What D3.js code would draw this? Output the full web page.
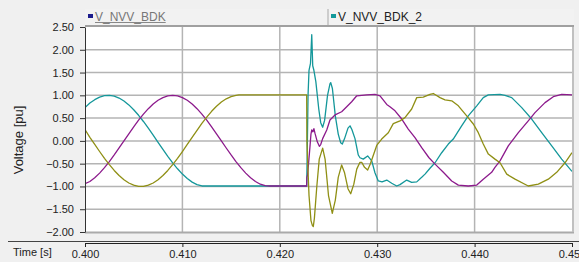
<!DOCTYPE html>
<html><head><meta charset="utf-8">
<script src="https://cdn.jsdelivr.net/npm/d3@7"></script>
<style>
html,body{margin:0;padding:0;background:#f0f0f0;}
svg{display:block;font-family:"Liberation Sans",Arial,sans-serif;}
</style></head>
<body><svg id="c" width="579" height="262"></svg>
<script>
// ---- data ----
const legendNames = ["V_NVV_BDK", "V_NVV_BDK_2"];
const legendColors = ["#1c1c8c", "#13999a"];
const xTicks = [0.400, 0.410, 0.420, 0.430, 0.440, 0.450];
const yTicks = [-2.0, -1.5, -1.0, -0.5, 0.0, 0.5, 1.0, 1.5, 2.0, 2.5];

const tealSeries = [
[0.4000,0.73],[0.4005,0.83],[0.4010,0.905],[0.4015,0.96],[0.4020,0.992],[0.4025,1.0],[0.4030,0.982],[0.4035,0.941],
[0.4040,0.876],[0.4045,0.79],[0.4050,0.684],[0.4055,0.562],[0.4060,0.426],[0.4065,0.279],[0.4070,0.125],[0.4075,-0.031],
[0.4080,-0.187],[0.4085,-0.339],[0.4090,-0.482],[0.4095,-0.613],[0.4100,-0.729],[0.4105,-0.827],[0.4110,-0.905],
[0.4115,-0.96],[0.4120,-0.99],[0.4125,-0.99],[0.42276,-0.99],
[0.42282,-0.2],[0.42290,1.0],[0.42300,1.55],[0.42315,1.7],[0.42328,2.33],[0.42338,1.65],[0.42350,1.55],[0.42370,1.3],
[0.42400,0.7],[0.42420,0.4],[0.42440,0.30],[0.42460,0.45],[0.42490,1.0],[0.42515,1.25],[0.42523,1.28],[0.42540,1.15],
[0.42570,0.55],[0.42600,0.15],[0.42625,-0.04],[0.42642,-0.07],[0.42665,0.05],[0.42700,0.28],[0.42721,0.33],[0.42740,0.25],
[0.42772,0.05],[0.42806,-0.31],[0.42823,-0.37],[0.42857,-0.40],[0.42902,-0.33],[0.42944,-0.44],[0.42977,-0.70],
[0.43011,-0.88],[0.43050,-0.90],[0.43098,-0.86],[0.43149,-0.93],[0.43200,-0.99],[0.43234,-0.96],[0.43303,-0.86],
[0.43354,-0.91],[0.43406,-0.90],[0.43457,-0.80],[0.43491,-0.73],[0.43542,-0.60],[0.43594,-0.48],[0.43662,-0.26],
[0.43730,-0.07],[0.43781,0.04],[0.43867,0.33],[0.43935,0.55],[0.44022,0.77],[0.44089,0.95],[0.44141,1.01],
[0.44261,1.02],[0.44312,1.0],[0.44381,0.95],[0.44484,0.73],[0.44586,0.48],[0.44689,0.18],[0.44792,-0.11],
[0.44894,-0.40],[0.45000,-0.67]
];

const purpleSeries = [
[0.4000,-0.94],[0.4005,-0.891],[0.4010,-0.809],[0.4015,-0.707],[0.4020,-0.588],[0.4025,-0.454],[0.4030,-0.309],
[0.4035,-0.156],[0.4040,0.0],[0.4045,0.156],[0.4050,0.309],[0.4055,0.454],[0.4060,0.588],[0.4065,0.707],[0.4070,0.809],
[0.4075,0.891],[0.4080,0.951],[0.4085,0.988],[0.4090,1.0],[0.4095,0.988],[0.4100,0.951],[0.4105,0.891],[0.4110,0.809],
[0.4115,0.707],[0.4120,0.588],[0.4125,0.454],[0.4130,0.309],[0.4135,0.156],[0.4140,0.0],[0.4145,-0.156],[0.4150,-0.309],
[0.4155,-0.454],[0.4160,-0.588],[0.4165,-0.707],[0.4170,-0.809],[0.4175,-0.891],[0.4180,-0.951],[0.4185,-0.98],
[0.4190,-0.99],[0.42276,-0.99],
[0.42278,-0.80],[0.42285,-0.75],[0.42295,-0.5],[0.42310,-0.12],[0.42320,0.15],[0.42328,0.24],[0.42340,0.2],
[0.42350,0.27],[0.42361,0.17],[0.42385,-0.02],[0.42406,-0.12],[0.42420,-0.08],[0.42440,0.05],[0.42482,0.24],
[0.42515,0.46],[0.42567,0.57],[0.42635,0.64],[0.42687,0.75],[0.42738,0.86],[0.42790,0.99],[0.42892,1.01],
[0.42977,1.02],[0.43029,0.99],[0.43098,0.80],[0.43131,0.75],[0.43183,0.66],[0.43252,0.48],[0.43319,0.26],
[0.43388,0.07],[0.43457,-0.15],[0.43532,-0.37],[0.43594,-0.51],[0.43679,-0.69],[0.43765,-0.88],[0.43833,-0.97],
[0.43935,-0.99],[0.44022,-0.97],[0.44089,-0.84],[0.44175,-0.69],[0.44209,-0.58],[0.44261,-0.44],[0.44346,-0.11],
[0.44449,0.18],[0.44551,0.44],[0.44620,0.62],[0.44723,0.84],[0.44808,0.97],[0.44894,1.02],[0.45000,1.01]
];

const oliveSeries = [
[0.4000,0.25],[0.4005,0.078],[0.4010,-0.078],[0.4015,-0.233],[0.4020,-0.383],[0.4025,-0.522],[0.4030,-0.649],
[0.4035,-0.76],[0.4040,-0.853],[0.4045,-0.924],[0.4050,-0.972],[0.4055,-0.997],[0.4060,-0.997],[0.4065,-0.972],
[0.4070,-0.924],[0.4075,-0.853],[0.4080,-0.76],[0.4085,-0.649],[0.4090,-0.522],[0.4095,-0.383],[0.4100,-0.233],
[0.4105,-0.078],[0.4110,0.078],[0.4115,0.233],[0.4120,0.383],[0.4125,0.522],[0.4130,0.649],[0.4135,0.76],
[0.4140,0.853],[0.4145,0.924],[0.4150,0.972],[0.4155,0.997],[0.4158,1.01],[0.42276,1.01],
[0.42278,0.0],[0.42285,-0.4],[0.42300,-1.2],[0.42320,-1.75],[0.42335,-1.86],[0.42344,-1.88],[0.42355,-1.7],
[0.42380,-1.0],[0.42405,-0.4],[0.42440,-0.16],[0.42465,-0.4],[0.42500,-1.2],[0.42539,-1.59],[0.42570,-1.3],
[0.42600,-0.8],[0.42635,-0.53],[0.42665,-0.7],[0.42700,-1.05],[0.42728,-1.16],[0.42760,-0.95],[0.42790,-0.62],
[0.42823,-0.47],[0.42841,-0.47],[0.42870,-0.58],[0.42902,-0.64],[0.42930,-0.5],[0.42995,-0.10],[0.43046,0.04],
[0.43114,0.18],[0.43165,0.38],[0.43234,0.44],[0.43285,0.51],[0.43354,0.70],[0.43406,0.95],[0.43473,0.96],
[0.43542,1.02],[0.43576,1.04],[0.43645,0.95],[0.43696,0.90],[0.43765,0.88],[0.43833,0.77],[0.43919,0.55],
[0.43987,0.37],[0.44038,0.18],[0.44089,-0.07],[0.44141,-0.29],[0.44209,-0.40],[0.44261,-0.48],[0.44330,-0.73],
[0.44415,-0.84],[0.44551,-0.99],[0.44654,-0.95],[0.44757,-0.84],[0.44843,-0.69],[0.44928,-0.48],[0.45000,-0.26]
];

const lines = [
  {data: tealSeries, color: "#14979a"},
  {data: purpleSeries, color: "#8c1a8c"},
  {data: oliveSeries, color: "#8f8f14"}
];

// ---- layout ----
const svg = d3.select("#c");
const L = 85, R = 572, T = 27, B = 232;
const x = d3.scaleLinear().domain([0.400, 0.450]).range([L, R]);
const y = d3.scaleLinear().domain([-2.0, 2.5]).range([B, T]);

svg.append("rect").attr("width", 579).attr("height", 262).attr("fill", "#f0f0f0");

// legend bar
svg.append("rect").attr("x", L).attr("y", 9).attr("width", R - L + 2).attr("height", 17).attr("fill", "#f2f2f2");
svg.append("line").attr("x1", 328).attr("x2", 328).attr("y1", 9).attr("y2", 26).attr("stroke", "#a8a8a8");
const legX = [88, 331];
legendNames.forEach((n, i) => {
  svg.append("rect").attr("x", legX[i]).attr("y", 14).attr("width", 5).attr("height", 4).attr("fill", legendColors[i]);
  const t = svg.append("text").attr("x", legX[i] + 7).attr("y", 21).attr("font-size", 12)
    .attr("fill", i === 0 ? "#777" : "#222").text(n);
  if (i === 0) {
    const w = t.node().getComputedTextLength();
    svg.append("line").attr("x1", legX[i] + 7).attr("x2", legX[i] + 7 + w).attr("y1", 22.5).attr("y2", 22.5)
      .attr("stroke", "#888").attr("stroke-width", 1);
  }
});

// plot area
svg.append("rect").attr("x", L).attr("y", T).attr("width", R - L).attr("height", B - T).attr("fill", "#fff");

// grid
const g = svg.append("g");
g.selectAll(".hg").data(yTicks.filter(v => v > -2 && v < 2.5)).enter().append("line")
  .attr("x1", L).attr("x2", R).attr("y1", d => y(d)).attr("y2", d => y(d))
  .attr("stroke", "#b4b4b4").attr("stroke-width", 1.5);
g.selectAll(".vg").data(xTicks.filter(v => v > 0.4 && v < 0.45)).enter().append("line")
  .attr("x1", d => x(d)).attr("x2", d => x(d)).attr("y1", T).attr("y2", B)
  .attr("stroke", "#b4b4b4").attr("stroke-width", 1.5);

// borders
svg.append("line").attr("x1", L).attr("x2", R + 2).attr("y1", 26).attr("y2", 26).attr("stroke", "#a0a0a0").attr("stroke-width", 2);
svg.append("line").attr("x1", L).attr("x2", R + 2).attr("y1", B + 0.5).attr("y2", B + 0.5).attr("stroke", "#aaa").attr("stroke-width", 2);
svg.append("line").attr("x1", R + 1).attr("x2", R + 1).attr("y1", T).attr("y2", B).attr("stroke", "#c0c0c0").attr("stroke-width", 2);

// series
svg.append("clipPath").attr("id", "clip").append("rect").attr("x", L).attr("y", T).attr("width", R - L).attr("height", B - T);
const lineGen = d3.line().x(d => x(d[0])).y(d => y(d[1]));
const lg = svg.append("g").attr("clip-path", "url(#clip)");
lines.forEach(s => {
  lg.append("path").datum(s.data).attr("d", lineGen).attr("fill", "none")
    .attr("stroke", s.color).attr("stroke-width", 1.3).attr("stroke-linejoin", "round");
});

// y axis
const ya = svg.append("g").attr("transform", `translate(${L},0)`)
  .call(d3.axisLeft(y).tickValues(yTicks).tickFormat(d3.format(".2f")).tickSize(5).tickSizeOuter(0));
ya.select(".domain").attr("stroke", "#333");
ya.selectAll(".tick line").attr("stroke", "#333");
ya.selectAll("text").attr("font-size", 11).attr("fill", "#222").attr("font-family", "Liberation Sans, Arial, sans-serif").attr("x", -11);

svg.append("text").attr("transform", "translate(23,140) rotate(-90)").attr("text-anchor", "middle")
  .attr("font-size", 13).attr("fill", "#222").text("Voltage [pu]");

// x axis panel
svg.append("line").attr("x1", 8).attr("x2", 579).attr("y1", 241.5).attr("y2", 241.5).attr("stroke", "#444").attr("stroke-width", 1);
const xa = svg.append("g").attr("transform", "translate(0,243)")
  .call(d3.axisBottom(x).tickValues(xTicks).tickFormat(d3.format(".3f")).tickSize(4).tickSizeOuter(0));
xa.select(".domain").attr("stroke", "#222");
xa.selectAll(".tick line").attr("stroke", "#222");
xa.selectAll("text").attr("font-size", 11).attr("fill", "#222").attr("font-family", "Liberation Sans, Arial, sans-serif").attr("y", 7);

svg.append("text").attr("x", 13).attr("y", 256).attr("font-size", 11).attr("fill", "#222").text("Time [s]");
</script>
</body></html>
